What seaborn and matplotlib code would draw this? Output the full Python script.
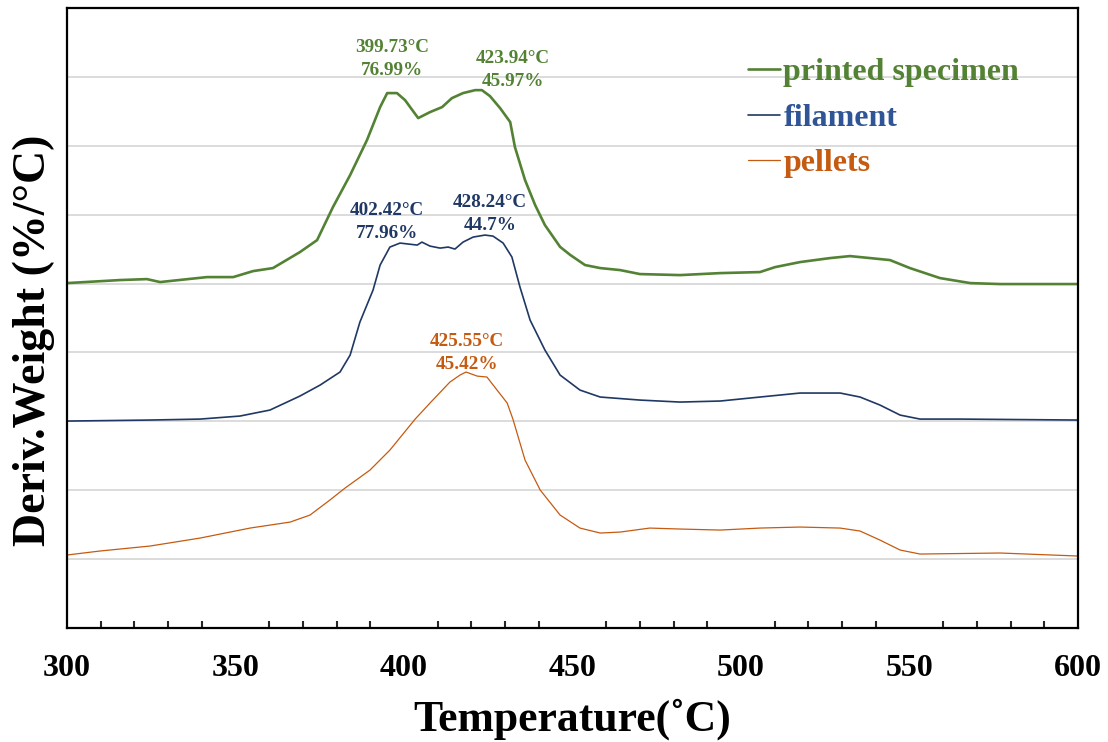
import numpy as np
import pandas as pd
import matplotlib.pyplot as plt
import seaborn as sns
from matplotlib.ticker import MultipleLocator

# curves (temperature in C, offset deriv. weight in grid units)
printed_temp = [300, 315.7, 323.7, 327.6, 341.5, 349.3, 355.2, 361.1, 369.1, 374.2,
                378.9, 384, 389, 392.9, 395, 397.9, 400.3, 401.8, 404.2, 407.7,
                411.3, 414.2, 417.5, 421.1, 423.1, 425.5, 428.5, 431.5, 432.9, 435.9,
                438.9, 441.8, 446.3, 449.3, 453.7, 458.2, 464.1, 470, 481.9, 493.8,
                505.6, 510.1, 517.5, 526.4, 532.3, 538.3, 544.2, 550.1, 559, 568,
                576.9, 600]
printed_dtg = [5.007, 5.051, 5.065, 5.022, 5.094, 5.094, 5.181, 5.225, 5.457, 5.631,
               6.110, 6.575, 7.083, 7.562, 7.765, 7.765, 7.663, 7.562, 7.402, 7.489,
               7.562, 7.692, 7.765, 7.808, 7.808, 7.721, 7.547, 7.344, 6.981, 6.502,
               6.139, 5.849, 5.533, 5.416, 5.269, 5.225, 5.196, 5.138, 5.123, 5.152,
               5.167, 5.239, 5.312, 5.370, 5.399, 5.370, 5.341, 5.225, 5.080, 5.007,
               4.993, 4.993]

filament_temp = [300, 324.6, 339.5, 351.3, 360.2, 369.1, 375.1, 381, 384, 386.9,
                 390.8, 392.9, 395.8, 398.8, 403.9, 405.3, 407.7, 410.7, 413.1, 415.1,
                 417.5, 420.5, 424, 426.4, 429.4, 432, 434.4, 437.4, 441.8, 446.3,
                 452.2, 458.2, 470, 481.9, 493.8, 505.6, 517.5, 529.4, 535.3, 541.2,
                 547.2, 553.1, 565, 600]
filament_dtg = [3.004, 3.019, 3.033, 3.077, 3.164, 3.367, 3.527, 3.716, 3.962, 4.441,
                4.906, 5.269, 5.530, 5.588, 5.559, 5.602, 5.544, 5.515, 5.530, 5.501,
                5.602, 5.675, 5.704, 5.689, 5.588, 5.385, 4.949, 4.470, 4.035, 3.672,
                3.454, 3.353, 3.309, 3.280, 3.295, 3.353, 3.411, 3.411, 3.353, 3.237,
                3.091, 3.033, 3.033, 3.019]

pellets_temp = [300, 309.8, 324.6, 339.5, 354.3, 366.2, 372.1, 378, 382.5, 389.9,
                395.8, 403.3, 407.7, 413.6, 416.6, 418.4, 421.7, 424.6, 427.6, 430.6,
                432.3, 435.9, 440.4, 446.3, 452.2, 458.2, 464.1, 472.9, 481.9, 493.8,
                505.6, 517.5, 529.4, 535.3, 541.2, 547.2, 553.1, 576.9, 600]
pellets_dtg = [1.060, 1.118, 1.190, 1.306, 1.451, 1.538, 1.640, 1.858, 2.032, 2.293,
               2.583, 3.033, 3.266, 3.570, 3.672, 3.716, 3.657, 3.643, 3.454, 3.266,
               3.033, 2.438, 2.003, 1.640, 1.451, 1.379, 1.393, 1.451, 1.437, 1.422,
               1.451, 1.466, 1.451, 1.408, 1.277, 1.132, 1.074, 1.089, 1.045]

# peak labels: text, x, y
printed_peaks = [("399.73°C\n76.99%", 396.4, 8.26), ("423.94°C\n45.97%", 432.3, 8.10)]
filament_peaks = [("402.42°C\n77.96%", 395.0, 5.89), ("428.24°C\n44.7%", 425.5, 6.01)]
pellets_peaks = [("425.55°C\n45.42%", 418.7, 3.99)]

green = "#548235"
navy = "#203864"
orange = "#C55A11"

sns.set_style("white")
plt.rcParams["font.family"] = ["Liberation Serif", "DejaVu Serif"]
plt.rcParams["font.weight"] = "bold"

fig = plt.figure(figsize=(11.08, 7.42), dpi=100)
ax = fig.add_axes([0.0605, 0.1536, 0.9125, 0.8356])

series = [
    ("printed specimen", printed_temp, printed_dtg, green, 1.9),
    ("filament", filament_temp, filament_dtg, navy, 1.2),
    ("pellets", pellets_temp, pellets_dtg, orange, 0.9),
]
for name, t, d, c, lw in series:
    df = pd.DataFrame({"Temperature": t, "DTG": d})
    sns.lineplot(data=df, x="Temperature", y="DTG", color=c, linewidth=lw,
                 label=name, ax=ax, sort=False)

for peaks, c in [(printed_peaks, green), (filament_peaks, navy), (pellets_peaks, orange)]:
    for txt, x, y in peaks:
        ax.text(x, y, txt, color=c, ha="center", va="center", fontsize=13.8,
                fontweight="bold", linespacing=1.45)

ax.set_xlim(300, 600)
ax.set_ylim(0, 9)
ax.set_yticks(range(1, 9))
ax.set_yticklabels([])
ax.tick_params(axis="y", length=0)
ax.yaxis.grid(True, color="#D9D9D9", linewidth=1.3)
ax.xaxis.grid(False)

ax.xaxis.set_major_locator(MultipleLocator(50))
ax.xaxis.set_minor_locator(MultipleLocator(10))
ax.tick_params(axis="x", which="major", direction="inout", length=11.5, width=1.5,
               labelsize=23, pad=13, colors="black")
ax.tick_params(axis="x", which="minor", direction="in", length=5, width=1.5,
               bottom=True)
for lab in ax.get_xticklabels():
    lab.set_fontweight("bold")

for sp in ax.spines.values():
    sp.set_color("black")
    sp.set_linewidth(1.6)

ax.set_xlabel("Temperature(˚C)", fontsize=31.5, fontweight="bold", labelpad=11,
              color="black")
ax.set_ylabel("Deriv.Weight (%/°C)", fontsize=33, fontweight="bold", color="black")
ax.yaxis.set_label_coords(-0.012, 0.4645)

leg = ax.legend(loc="upper left", bbox_to_anchor=(0.661, 0.94), frameon=False,
                fontsize=23, handlelength=1.0, handletextpad=0.1, labelspacing=0.5,
                borderaxespad=0, labelcolor=[green, "#2F5597", orange])
for t in leg.get_texts():
    t.set_fontweight("bold")

fig.savefig("out.png", dpi=100)
